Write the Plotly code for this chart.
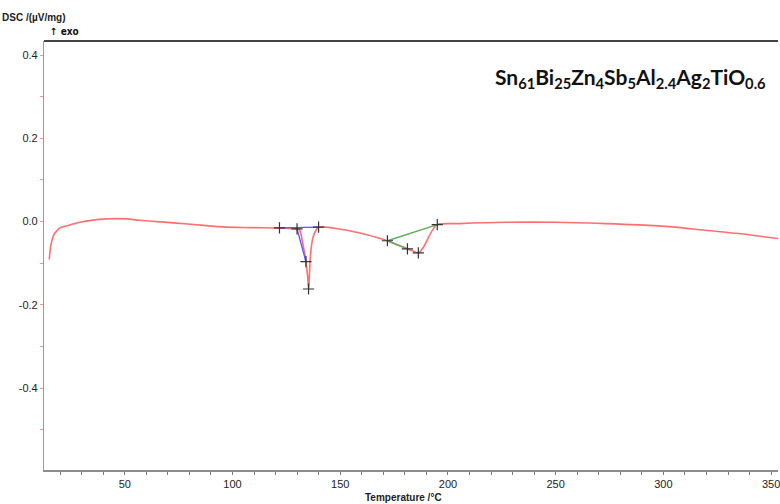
import plotly.graph_objects as go

# DSC curve (temperature °C, DSC µV/mg)
temp = [14.95, 15.74, 17.13, 18.52, 19.91, 22.69, 29.17, 35.2, 41.53, 50.79, 56.94, 72.36,
        87.83, 95.37, 107.87, 121.76, 129.95, 131.02, 132.55, 134.12, 134.86, 135.33,
        135.65, 136.44, 137.5, 138.75, 139.95, 151.06, 161.9, 171.9, 177.31, 181.16,
        183.8, 186.25, 188.89, 191.2, 193.52, 195.05, 205.1, 226.7, 249.87, 273.0,
        288.4, 303.9, 319.3, 334.7, 353.2]
dsc = [-0.0912, -0.0552, -0.0312, -0.0216, -0.0151, -0.0108, -0.0017, 0.0036, 0.0065, 0.0065,
       0.0031, -0.0031, -0.0096, -0.0127, -0.0144, -0.0156, -0.0175, -0.0192, -0.0504,
       -0.0984, -0.1313, -0.1621, -0.1313, -0.0672, -0.0353, -0.0209, -0.0137, -0.0192,
       -0.0312, -0.0461, -0.0576, -0.0655, -0.0708, -0.0752, -0.0593, -0.0353, -0.0151,
       -0.0072, -0.0048, -0.0017, -0.0017, -0.0048, -0.0079, -0.0127, -0.0209, -0.0288,
       -0.0408]

# evaluation markers
mark_t = [121.8, 129.95, 134.1, 135.3, 139.95, 171.9, 181.2, 186.25, 195.05]
mark_v = [-0.0151, -0.0175, -0.096, -0.162, -0.0132, -0.046, -0.0655, -0.0752, -0.0072]

# evaluation construction lines
blue_t = [121.8, 139.95, None, 129.95, 134.1]
blue_v = [-0.0151, -0.0132, None, -0.0175, -0.096]
green_t = [171.9, 195.05, None, 171.9, 181.2]
green_v = [-0.046, -0.0072, None, -0.046, -0.0655]

x_ticks = [50, 100, 150, 200, 250, 300, 350]
y_ticks = [-0.4, -0.2, 0.0, 0.2, 0.4]

fig = go.Figure()
fig.add_trace(go.Scatter(x=temp, y=dsc, mode="lines", line=dict(color="#ff6f6f", width=1.6),
                         line_shape="spline", hoverinfo="skip"))
fig.add_trace(go.Scatter(x=blue_t, y=blue_v, mode="lines", line=dict(color="#5a5aff", width=1.4)))
fig.add_trace(go.Scatter(x=green_t, y=green_v, mode="lines", line=dict(color="#5cae5c", width=1.4)))
fig.add_trace(go.Scatter(x=mark_t, y=mark_v, mode="markers",
                         marker=dict(symbol="cross-thin", size=8, line=dict(color="#333333", width=1.2))))

font_ax = "Liberation Sans Narrow, Arial Narrow, Liberation Sans, Arial"

fig.update_layout(
    width=780, height=504,
    margin=dict(l=44, r=0, t=41, b=34),
    paper_bgcolor="white", plot_bgcolor="white",
    showlegend=False,
    font=dict(family=font_ax, size=11, color="#222222"),
    xaxis=dict(range=[12.5, 353.2], tickvals=x_ticks, showgrid=False, zeroline=False,
               showline=True, linecolor="#8c8c8c", linewidth=2,
               ticks="outside", ticklen=3, tickcolor="#777777",
               ticklabeloverflow="allow",
               minor=dict(dtick=10, tick0=0, ticks="outside", ticklen=3, tickcolor="#777777"),
               tickfont=dict(family=font_ax, size=11, color="#222222")),
    yaxis=dict(range=[-0.597, 0.434], tickvals=y_ticks, ticktext=["-0.4", "-0.2", "0.0", "0.2", "0.4"],
               showgrid=False, zeroline=False,
               showline=True, linecolor="#ff7070", linewidth=1.2,
               ticks="outside", ticklen=3, tickcolor="#ff9090",
               minor=dict(dtick=0.1, tick0=0, ticks="outside", ticklen=3, tickcolor="#ff9090"),
               tickfont=dict(family=font_ax, size=11, color="#222222")),
    shapes=[dict(type="line", xref="paper", yref="paper", x0=0, x1=1, y0=1, y1=1,
                 line=dict(color="#444444", width=2))],
    annotations=[
        dict(text="<b>DSC /(µV/mg)</b>", xref="paper", yref="paper", x=-44/736, y=1 + 23/429,
             xanchor="left", yanchor="middle", showarrow=False,
             font=dict(family=font_ax, size=10, color="#222222")),
        dict(text="<b>↑ exo</b>", xref="paper", yref="paper", x=4/736, y=1 + 9/429,
             xanchor="left", yanchor="middle", showarrow=False,
             font=dict(family="DejaVu Sans Condensed, DejaVu Sans", size=10, color="#111111")),
        dict(text="<b>Temperature /°C</b>", xref="paper", yref="paper", x=(404-44)/736, y=-27/429,
             xanchor="center", yanchor="middle", showarrow=False,
             font=dict(family=font_ax, size=10, color="#222222")),
        dict(text="<b>Sn<sub>61</sub>Bi<sub>25</sub>Zn<sub>4</sub>Sb<sub>5</sub>Al<sub>2.4</sub>Ag<sub>2</sub>TiO<sub>0.6</sub></b>",
             xref="paper", yref="paper", x=(494-44)/736, y=(470-78)/429,
             xanchor="left", yanchor="middle", showarrow=False,
             font=dict(family="Lato, Open Sans, sans-serif", size=21, color="#111111")),
    ],
)

fig.write_html("out.html")
